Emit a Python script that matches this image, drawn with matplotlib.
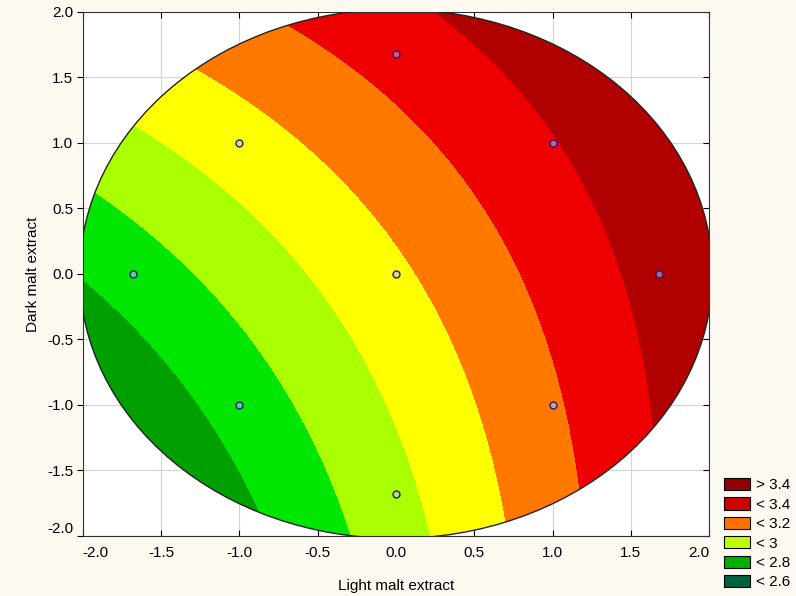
import numpy as np
import matplotlib
matplotlib.use('Agg')
from matplotlib import pyplot as plt
from matplotlib import lines
from matplotlib.patches import Circle, Patch

plt.rcParams['font.family'] = ['Liberation Sans', 'DejaVu Sans']
plt.rcParams['axes.unicode_minus'] = False

# superficie de respuesta cuadratica (coeficientes estimados de la imagen)
# z = b0 + b1*x + b2*y + b11*x^2 + b22*y^2 + b12*x*y
coef = [2.963, 0.292, 0.160, 0.008, 0.0174, -0.0516]
niveles = [2.4, 2.6, 2.8, 3.0, 3.2, 3.4]
colores = ['#00a000', '#00e600', '#aaff00', '#ffff00', '#ff7800', '#ee0000', '#b00000']

# puntos del diseno experimental
puntos_x = [-1, 1, -1, 1, -1.68, 1.68, 0, 0, 0]
puntos_y = [-1, -1, 1, 1, 0, 0, -1.68, 1.68, 0]

# leyenda (tal como aparece)
etiquetas = ['> 3.4', '< 3.4', '< 3.2', '< 3', '< 2.8', '< 2.6']
colores_leyenda = ['#900000', '#cc0000', '#ff7000', '#c0ff00', '#00b000', '#006040']

x = np.linspace(-2.1, 2.1, 400)
X, Y = np.meshgrid(x, x)
Z = coef[0] + coef[1]*X + coef[2]*Y + coef[3]*X**2 + coef[4]*Y**2 + coef[5]*X*Y

fig = plt.figure(figsize=(7.96, 5.96), dpi=100, facecolor='#fcf9f0')
ax = fig.add_axes([0.104, 0.101, 0.787, 0.879])
ax.set_facecolor('white')
cs = ax.contourf(X, Y, Z, levels=[0] + niveles + [10], colors=colores, zorder=2)
circulo = Circle((0, 0), 2.02, transform=ax.transData, facecolor='none',
                 edgecolor='#222222', lw=1.0, zorder=3)
ax.add_patch(circulo)
cs.set_clip_path(circulo)

ax.plot(puntos_x, puntos_y, 'o', ms=5, mfc=(0.75, 0.75, 1.0, 0.5),
        mec='#202080', mew=1.0, zorder=4)

ax.set_xlim(-2, 2)
ax.set_ylim(-2, 2)
ticks = np.arange(-2, 2.01, 0.5)
ax.set_xticks(ticks)
ax.set_yticks(ticks)
ax.set_xticklabels(['%.1f' % t for t in ticks])
ax.set_yticklabels(['%.1f' % t for t in ticks])
ax.grid(True, color='#d4d4d4', lw=0.8, zorder=0)
ax.set_axisbelow(True)
ax.tick_params(axis='x', direction='in', top=True, length=4, labelsize=11, pad=7)
ax.tick_params(axis='y', direction='out', right=True, length=4, labelsize=11, pad=3)
# ticks de la derecha hacia adentro
for t in ax.yaxis.get_major_ticks():
    t.tick2line.set_marker(lines.TICKLEFT)
# etiquetas de los extremos hacia adentro
xl = ax.get_xticklabels()
xl[0].set_ha('left')
xl[-1].set_ha('right')
yl = ax.get_yticklabels()
yl[0].set_va('bottom')
for lado in ['top', 'bottom', 'left', 'right']:
    ax.spines[lado].set_color('#333333')
ax.set_xlabel('Light malt extract', fontsize=11, labelpad=14)
ax.set_ylabel('Dark malt extract', fontsize=11, labelpad=5)

manejadores = [Patch(facecolor=c, edgecolor='black', lw=0.8) for c in colores_leyenda]
fig.legend(manejadores, etiquetas, loc='upper left', bbox_to_anchor=(0.910, 0.198),
           frameon=False, fontsize=11, handlelength=1.7, handleheight=0.85,
           labelspacing=0.33, handletextpad=0.4, borderpad=0, borderaxespad=0)

fig.savefig('out.png', facecolor=fig.get_facecolor())
